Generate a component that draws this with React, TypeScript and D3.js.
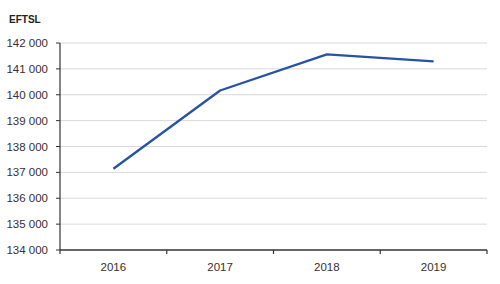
import React from "react";
import * as d3 from "d3";

const years = ["2016", "2017", "2018", "2019"];
const eftsl = [137140, 140165, 141560, 141290];
const yTicks = [134000, 135000, 136000, 137000, 138000, 139000, 140000, 141000, 142000];

const W = 500, H = 284;
const left = 60, right = 487, top = 43, bottom = 250;
const font = "'Liberation Sans', Arial, sans-serif";

export default function App() {
  const x = d3.scaleBand<string>().domain(years).range([left, right]);
  const y = d3.scaleLinear().domain([134000, 142000]).range([bottom, top]);
  const line = d3
    .line<number>()
    .x((_, i) => (x(years[i]) as number) + x.bandwidth() / 2)
    .y((d) => y(d));
  const fmt = (v: number) => d3.format(",")(v).replace(/,/g, " ");
  const edges = years.map((yr) => x(yr) as number).concat([right]);
  return (
    <svg width={W} height={H} style={{ position: "absolute", left: 0, top: 0, background: "#fff" }}>
      <text x={9} y={23} fontFamily={font} fontWeight="bold" fontSize={10} fill="#222">EFTSL</text>
      {yTicks.map((t) => (
        <g key={t}>
          {t !== 134000 && (
            <line x1={left} x2={right} y1={y(t)} y2={y(t)} stroke="#d9d9d9" strokeWidth={1} />
          )}
          <line x1={56} x2={left} y1={y(t)} y2={y(t)} stroke="#333" strokeWidth={1} />
          <text x={48} y={y(t)} dy="0.35em" textAnchor="end" fontFamily={font} fontSize={11.5} fill="#3a2e2e">
            {fmt(t)}
          </text>
        </g>
      ))}
      <line x1={left} x2={left} y1={top} y2={bottom} stroke="#333" strokeWidth={1.2} />
      <line x1={left} x2={right} y1={bottom} y2={bottom} stroke="#333" strokeWidth={1.5} />
      {edges.map((e, i) => (
        <line key={i} x1={e} x2={e} y1={bottom} y2={254} stroke="#333" strokeWidth={1.2} />
      ))}
      {years.map((yr) => (
        <text key={yr} x={(x(yr) as number) + x.bandwidth() / 2} y={271} textAnchor="middle" fontFamily={font} fontSize={11.5} fill="#3a2e2e">
          {yr}
        </text>
      ))}
      <path d={line(eftsl) || ""} fill="none" stroke="#2653a3" strokeWidth={2.3} strokeLinejoin="round" />
    </svg>
  );
}
